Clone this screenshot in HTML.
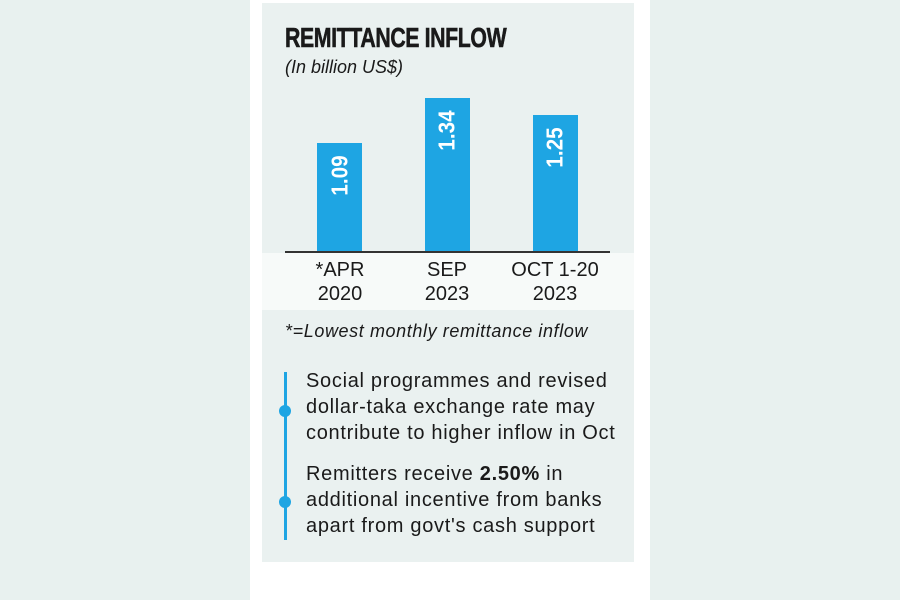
<!DOCTYPE html><html><head><style>
body{margin:0;width:900px;height:600px;background:#e8f1ef;position:relative;overflow:hidden;font-family:"Liberation Sans",sans-serif;color:#1a1a1a}
div{position:absolute}
.bar{background:#1ea5e3;width:45px}
.v{color:#fff;font-weight:bold;font-size:23px;transform:rotate(-90deg) scaleX(0.9);transform-origin:center;width:70px;text-align:center}
.lab{font-size:20px;text-align:center;width:120px;line-height:24px}
.b{font-size:20px;line-height:26px;left:306px;white-space:nowrap;letter-spacing:0.7px}
.dot{width:12px;height:12px;border-radius:50%;background:#1ea5e3;left:279px}
</style></head><body>
<div style="left:250px;top:0;width:400px;height:600px;background:#fff"></div>
<div style="left:262px;top:3px;width:372px;height:559px;background:#eaf1f0"></div>
<div style="left:262px;top:253px;width:372px;height:57px;background:#f7faf9"></div>
<div style="left:285px;top:22px;font-size:28px;font-weight:900;transform:scaleX(0.76);transform-origin:left;white-space:nowrap;letter-spacing:-0.5px;-webkit-text-stroke:0.6px #1a1a1a">REMITTANCE INFLOW</div>
<div style="left:285px;top:57px;font-size:18px;font-style:italic">(In billion US$)</div>
<div class="bar" style="left:317px;top:143px;height:109px"></div>
<div class="bar" style="left:425px;top:98px;height:154px"></div>
<div class="bar" style="left:533px;top:115px;height:137px"></div>
<div class="v" style="left:305px;top:162px">1.09</div>
<div class="v" style="left:412px;top:117px">1.34</div>
<div class="v" style="left:520px;top:134px">1.25</div>
<div style="left:285px;top:251px;width:325px;height:2px;background:#333"></div>
<div class="lab" style="left:280px;top:258px">*APR<br>2020</div>
<div class="lab" style="left:387px;top:258px">SEP<br>2023</div>
<div class="lab" style="left:495px;top:258px">OCT 1-20<br>2023</div>
<div style="left:285px;top:321px;font-size:18px;font-style:italic;white-space:nowrap;letter-spacing:0.6px">*=Lowest monthly remittance inflow</div>
<div style="left:284px;top:372px;width:3px;height:168px;background:#1ea5e3"></div>
<div class="dot" style="top:405px"></div>
<div class="dot" style="top:496px"></div>
<div class="b" style="top:368px">Social programmes and revised<br>dollar-taka exchange rate may<br>contribute to higher inflow in Oct</div>
<div class="b" style="top:461px">Remitters receive <b>2.50%</b> in<br>additional incentive from banks<br>apart from govt's cash support</div>
</body></html>
